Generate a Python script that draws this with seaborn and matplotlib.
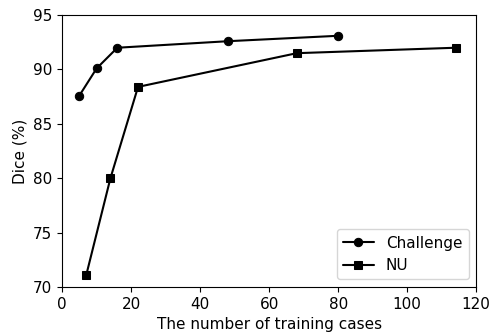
import matplotlib
matplotlib.use("Agg")
import matplotlib.pyplot as plt
import pandas as pd
import seaborn as sns

challenge_cases = [5, 10, 16, 48, 80]
challenge_dice = [87.6, 90.1, 92.0, 92.6, 93.1]
nu_cases = [7, 14, 22, 68, 114]
nu_dice = [71.1, 80.0, 88.4, 91.5, 92.0]


def main():
    sns.set_style("ticks")
    plt.rcParams["font.family"] = ["DejaVu Sans"]
    plt.rcParams["text.color"] = "black"
    plt.rcParams["axes.labelcolor"] = "black"
    plt.rcParams["xtick.color"] = "black"
    plt.rcParams["ytick.color"] = "black"

    df = pd.concat([
        pd.DataFrame({"cases": challenge_cases, "dice": challenge_dice, "set": "Challenge"}),
        pd.DataFrame({"cases": nu_cases, "dice": nu_dice, "set": "NU"}),
    ])

    fig = plt.figure(figsize=(4.93, 3.36), dpi=100)
    ax = fig.add_axes([0.126, 0.146, 0.840, 0.809])
    sns.lineplot(data=df, x="cases", y="dice", style="set", markers=["o", "s"],
                 dashes=False, color="black", markersize=6, linewidth=1.5,
                 markeredgecolor="black", ax=ax)

    ax.set_xlim(0, 120)
    ax.set_ylim(70, 95)
    ax.set_xticks(range(0, 121, 20))
    ax.set_yticks(range(70, 96, 5))
    ax.tick_params(labelsize=11, direction="out", length=3.5, width=0.8)
    for s in ax.spines.values():
        s.set_color("black")
        s.set_linewidth(0.8)
    ax.set_xlabel("The number of training cases", fontsize=11)
    ax.set_ylabel("Dice (%)", fontsize=11)
    ax.legend(title=None, loc="lower right", fontsize=11, frameon=True)

    fig.savefig("out.png", dpi=100)
    plt.close(fig)


if __name__ == "__main__":
    main()
